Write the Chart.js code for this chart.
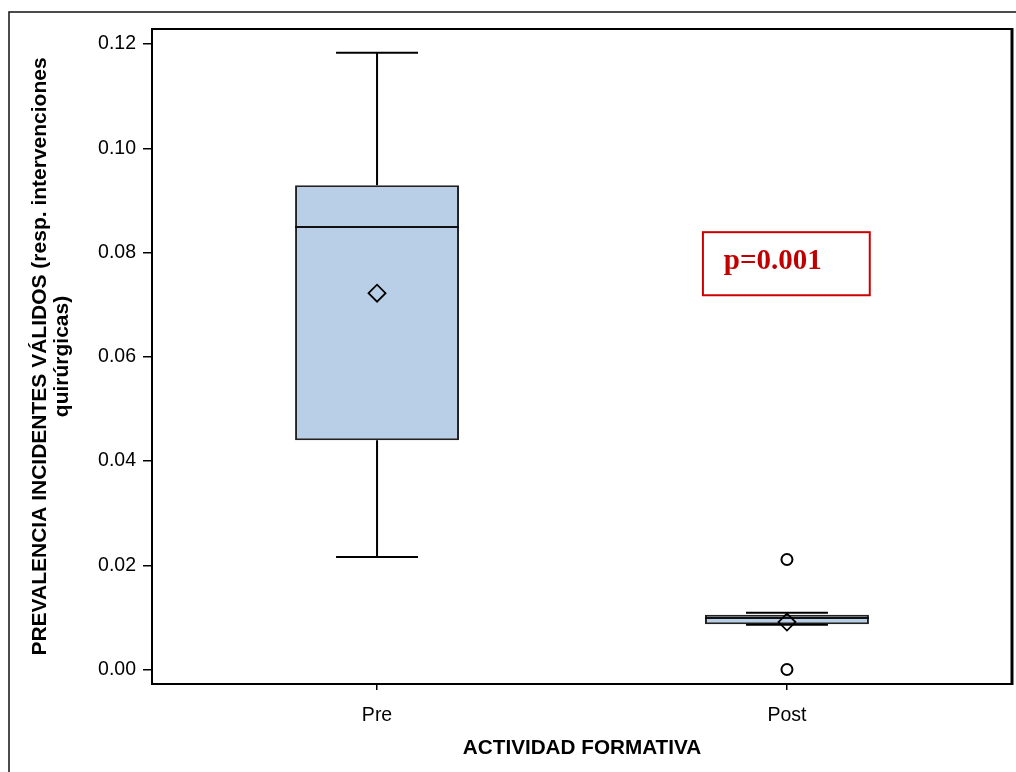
<!DOCTYPE html>
<html>
<head>
<meta charset="utf-8">
<script src="https://cdn.jsdelivr.net/npm/chart.js@4.4.1/dist/chart.umd.min.js"></script>
<style>
  html, body { margin: 0; padding: 0; background: #fff; }
  #wrap { width: 1016px; height: 772px; position: relative; }
</style>
</head>
<body>
<div id="wrap"><canvas id="c" width="1016" height="772"></canvas></div>
<script>
// Groups and their box-plot summaries
const categories = ['Pre', 'Post'];
const whiskerLow  = [0.0216, 0.0086];
const q1          = [0.0440, 0.0087];
const median      = [0.0849, 0.0099];
const q3          = [0.0929, 0.0105];
const whiskerHigh = [0.1183, 0.0109];
const means       = [0.0722, 0.0091];
const outliers    = [[], [0.0211, 0.0000]];
const yTicks      = [0.00, 0.02, 0.04, 0.06, 0.08, 0.10, 0.12];
const pValueText  = 'p=0.001';

const yTitle = ['PREVALENCIA INCIDENTES VÁLIDOS (resp. intervenciones', 'quirúrgicas)'];
const xTitle = 'ACTIVIDAD FORMATIVA';

const BOX_HALF = 0.2;   // half box width, in x-axis units
const CAP_HALF = 0.1;   // half whisker-cap width
const INK = '#000';

// Whisker stems: lower stem and upper stem, split by a gap
const stemData = [];
const capData = [];
const medianData = [];
categories.forEach((c, i) => {
  stemData.push({x: i, y: whiskerLow[i]}, {x: i, y: q1[i]}, {x: i, y: null},
                {x: i, y: q3[i]}, {x: i, y: whiskerHigh[i]}, {x: i, y: null});
  capData.push({x: i - CAP_HALF, y: whiskerLow[i]}, {x: i + CAP_HALF, y: whiskerLow[i]}, {x: i, y: null},
               {x: i - CAP_HALF, y: whiskerHigh[i]}, {x: i + CAP_HALF, y: whiskerHigh[i]}, {x: i, y: null});
  medianData.push({x: i - BOX_HALF, y: median[i]}, {x: i + BOX_HALF, y: median[i]}, {x: i, y: null});
});
const outlierData = [];
outliers.forEach((list, i) => list.forEach(v => outlierData.push({x: i, y: v})));

// Frame lines and the p-value note
const framePlugin = {
  id: 'frame',
  afterDraw(chart) {
    const {ctx, chartArea: a, scales: {x, y}} = chart;
    ctx.save();
    // page frame
    ctx.strokeStyle = '#111';
    ctx.lineWidth = 1.5;
    ctx.beginPath();
    ctx.moveTo(9, 772);
    ctx.lineTo(9, 12);
    ctx.lineTo(1016, 12);
    ctx.stroke();
    // plot frame
    ctx.strokeStyle = INK;
    ctx.lineWidth = 2;
    ctx.beginPath();
    ctx.moveTo(a.left, a.top);
    ctx.lineTo(a.right, a.top);
    ctx.stroke();
    ctx.lineWidth = 3;
    ctx.beginPath();
    ctx.moveTo(a.right, a.top - 1);
    ctx.lineTo(a.right, a.bottom + 1);
    ctx.stroke();
    // p-value note
    const l = x.getPixelForValue(0.795), r = x.getPixelForValue(1.202);
    const t = y.getPixelForValue(0.0839), b = y.getPixelForValue(0.0718);
    ctx.strokeStyle = '#cc0000';
    ctx.lineWidth = 2;
    ctx.strokeRect(l, t, r - l, b - t);
    ctx.fillStyle = '#c00000';
    ctx.font = 'bold 29px "Liberation Serif", "Times New Roman", serif';
    ctx.textAlign = 'left';
    ctx.textBaseline = 'alphabetic';
    ctx.fillText(pValueText, x.getPixelForValue(0.846), y.getPixelForValue(0.0768));
    ctx.restore();
  }
};

const tickFont = {family: '"Liberation Sans", Arial, sans-serif', size: 19.5};
const titleFont = {family: '"Liberation Sans", Arial, sans-serif', size: 20.7, weight: 'bold'};

new Chart(document.getElementById('c'), {
  data: {
    datasets: [
      {
        type: 'bar',
        data: categories.map((c, i) => ({x: i, y: [q1[i], q3[i]]})),
        backgroundColor: '#b9cee7',
        borderColor: '#222',
        borderWidth: 2,
        borderSkipped: false,
        barPercentage: 2 * BOX_HALF,
        categoryPercentage: 1,
        order: 3
      },
      {
        type: 'line', data: stemData, borderColor: INK, borderWidth: 2,
        pointRadius: 0, fill: false, spanGaps: false, order: 2
      },
      {
        type: 'line', data: capData, borderColor: INK, borderWidth: 2,
        pointRadius: 0, fill: false, spanGaps: false, order: 2
      },
      {
        type: 'line', data: medianData, borderColor: '#111', borderWidth: 2,
        pointRadius: 0, fill: false, spanGaps: false, order: 2
      },
      {
        type: 'scatter', data: categories.map((c, i) => ({x: i, y: means[i]})),
        pointStyle: 'rectRot', pointRadius: 8.5, borderColor: INK, borderWidth: 1.8,
        backgroundColor: 'rgba(0,0,0,0)', order: 1
      },
      {
        type: 'scatter', data: outlierData,
        pointStyle: 'circle', pointRadius: 5.5, borderColor: INK, borderWidth: 2,
        backgroundColor: '#fff', order: 1
      }
    ]
  },
  options: {
    responsive: false,
    animation: false,
    devicePixelRatio: 1,
    layout: {autoPadding: false, padding: {left: 0, top: 29, right: 4, bottom: 0}},
    plugins: {legend: {display: false}, tooltip: {enabled: false}},
    scales: {
      x: {
        type: 'linear',
        position: 'bottom',
        min: -0.549,
        max: 1.549,
        offset: false,
        afterBuildTicks: s => { s.ticks = categories.map((c, i) => ({value: i})); },
        afterFit: s => { s.height = 88; s.paddingLeft = 0; s.paddingRight = 0; },
        ticks: {
          callback: v => categories[v],
          font: tickFont, color: INK, padding: 14, maxRotation: 0, autoSkip: false
        },
        grid: {offset: false, drawOnChartArea: false, drawTicks: true, tickLength: 6, color: INK, lineWidth: 1.5},
        border: {display: true, color: INK, width: 2},
        title: {display: true, text: xTitle, font: titleFont, color: INK, padding: {top: 0, bottom: 11.6}}
      },
      y: {
        type: 'linear',
        position: 'left',
        min: -0.00278,
        max: 0.12288,
        afterBuildTicks: s => { s.ticks = yTicks.map(v => ({value: v})); },
        afterFit: s => { s.width = 152; s.paddingTop = 0; s.paddingBottom = 0; },
        ticks: {
          callback: v => v.toFixed(2),
          font: tickFont, color: INK, padding: 7, autoSkip: false
        },
        grid: {offset: false, drawOnChartArea: false, drawTicks: true, tickLength: 9, color: INK, lineWidth: 1.5},
        border: {display: true, color: INK, width: 2},
        title: {
          display: true, text: yTitle, color: INK,
          font: Object.assign({}, titleFont, {size: 21, lineHeight: 1.05}),
          padding: {top: 29, bottom: 0}
        }
      }
    }
  },
  plugins: [framePlugin]
});
</script>
</body>
</html>
